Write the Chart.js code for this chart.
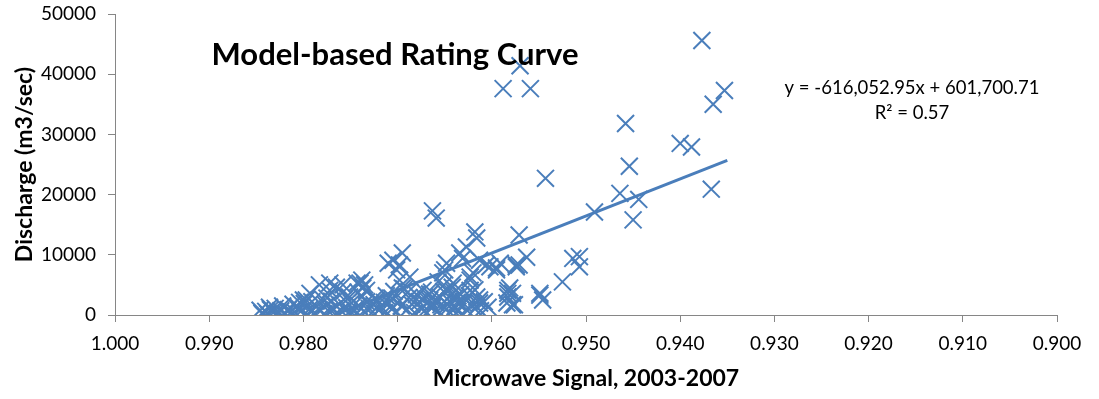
<!DOCTYPE html>
<html>
<head>
<meta charset="utf-8">
<script src="https://cdn.jsdelivr.net/npm/chart.js@4.4.0/dist/chart.umd.min.js"></script>
<style>
  body { margin: 0; background: #fff; }
  canvas { display: block; }
</style>
</head>
<body>
<canvas id="chart" width="1099" height="399"></canvas>
<script>
// === DATA ===
const chartTitle = "Model-based Rating Curve";
const xTitle = "Microwave Signal, 2003-2007";
const yTitle = "Discharge (m3/sec)";
const trendText = ["y = -616,052.95x + 601,700.71", "R\u00b2 = 0.57"];

// microwave signal (x) and discharge (y)
const signal = [
  0.9377, 0.9353, 0.9365, 0.9458, 0.9400, 0.9388, 0.9454, 0.9367, 0.9464, 0.9444,
  0.9450, 0.9491, 0.9543, 0.9570, 0.9588, 0.9559, 0.9663, 0.9659, 0.9618, 0.9616,
  0.9627, 0.9571, 0.9563, 0.9571, 0.9514, 0.9507, 0.9507, 0.9525, 0.9549, 0.9546,
  0.9581, 0.9578, 0.9583, 0.9591, 0.9602, 0.9595, 0.9613, 0.9620, 0.9623, 0.9648,
  0.9652, 0.9634, 0.9631, 0.9616, 0.9613, 0.9695, 0.9705, 0.9710, 0.9740, 0.9737,
  0.9758, 0.9698, 0.9687, 0.9701, 0.9783, 0.9772, 0.9765, 0.9793, 0.9800, 0.9846,
  0.9836, 0.9844,
  // medium values
  0.9650, 0.9673, 0.9666, 0.9663, 0.9655, 0.9648, 0.9641, 0.9638, 0.9634, 0.9641,
  0.9623, 0.9623, 0.9613, 0.9616, 0.9606, 0.9595, 0.9583, 0.9583, 0.9576, 0.9574,
  0.9549, 0.9574, 0.9584, 0.9578, 0.9698, 0.9689, 0.9695, 0.9735, 0.9742, 0.9657,
  0.9651, 0.9640, 0.9664, 0.9671, 0.9660, 0.9647, 0.9637, 0.9674, 0.9724, 0.9714,
  0.9706, 0.9772, 0.9743, 0.9738, 0.9733, 0.9804, 0.9797, 0.9775, 0.9751, 0.9758,
  // dense low cluster
  0.9843, 0.9840, 0.9838, 0.9835, 0.9832, 0.9830, 0.9827, 0.9824, 0.9822, 0.9819,
  0.9816, 0.9813, 0.9811, 0.9808, 0.9805, 0.9803, 0.9799, 0.9796, 0.9794, 0.9791,
  0.9788, 0.9786, 0.9783, 0.9780, 0.9778, 0.9776, 0.9773, 0.9770, 0.9768, 0.9765,
  0.9762, 0.9760, 0.9757, 0.9754, 0.9752, 0.9749, 0.9746, 0.9744, 0.9741, 0.9738,
  0.9736, 0.9733, 0.9730, 0.9728, 0.9725, 0.9722, 0.9720, 0.9717, 0.9714, 0.9712,
  0.9709, 0.9706, 0.9704, 0.9701, 0.9698, 0.9696, 0.9693, 0.9690, 0.9688, 0.9685,
  0.9682, 0.9680, 0.9677, 0.9674, 0.9672, 0.9669, 0.9666, 0.9663, 0.9660, 0.9657,
  0.9654, 0.9651, 0.9648, 0.9645, 0.9642, 0.9639, 0.9636, 0.9633, 0.9630, 0.9627,
  0.9624, 0.9621, 0.9618, 0.9612, 0.9608, 0.9604
];
const discharge = [
  45600, 37300, 35000, 31800, 28500, 27900, 24700, 20900, 20200, 19200,
  15800, 17100, 22700, 41400, 37600, 37600, 17300, 16100, 13800, 12800,
  11300, 13300, 9600, 8300, 9400, 9700, 8000, 5500, 3600, 2500,
  4500, 1700, 3600, 8600, 8000, 7500, 9100, 7000, 5800, 8600,
  7000, 10300, 9400, 1300, 2500, 10300, 9100, 8600, 5300, 4500,
  5000, 5800, 6300, 7500, 5000, 5300, 4600, 3600, 2500, 800,
  1300, 300,
  7500, 4100, 2500, 1300, 3000, 4100, 5300, 3000, 2000, 800,
  4100, 6300, 2000, 3000, 8300, 7800, 4100, 3000, 1700, 8300,
  3300, 8000, 2000, 3600, 8300, 3800, 4500, 5000, 3800, 5500,
  5000, 3800, 3800, 2800, 2100, 1700, 2100, 1200, 2800, 2100,
  2800, 4100, 5300, 5800, 4100, 2100, 2500, 2800, 3000, 3800,
  100, 600, 200, 900, 400, 1100, 300, 700, 1500, 200,
  900, 500, 1800, 300, 1200, 600, 1900, 100, 900, 2200,
  400, 1400, 800, 2700, 200, 1600, 600, 2300, 1000, 300,
  1800, 700, 2600, 1200, 400, 2000, 900, 200, 1500, 3000,
  600, 2200, 1100, 300, 1700, 2600, 800, 1300, 400, 3200,
  2000, 1000, 3900, 500, 2400, 1500, 4300, 900, 2900, 1800,
  400, 3400, 2200, 1100, 600, 1900, 3500, 1300, 2500, 700,
  1700, 3900, 1000, 2300, 4600, 1400, 600, 3400, 1900, 900,
  3200, 1500, 4200, 700, 2200, 1300
];

// linear trendline ends (from the fitted equation)
const trendX = [0.9767, 0.935];
const trendY = [0, 25690];

const xRange = [0.9, 1.0, 0.01];
const yRange = [0, 50000, 10000];

const blue = "#4A7EBB";
const axisGrey = "#868686";
const fontFamily = "Lato, 'Open Sans', sans-serif";

const points = signal.map((x, i) => ({ x: x, y: discharge[i] }));
const trend = trendX.map((x, i) => ({ x: x, y: trendY[i] }));

// draws chart title and trendline label over the plot area
const overlayText = {
  id: "overlayText",
  afterDraw(chart) {
    const ctx = chart.ctx;
    ctx.save();
    ctx.fillStyle = "#000";
    ctx.textAlign = "center";
    ctx.textBaseline = "middle";
    ctx.font = "bold 31px " + fontFamily;
    ctx.fillText(chartTitle, 395, 55);
    ctx.font = "18.5px " + fontFamily;
    ctx.fillText(trendText[0], 912, 88);
    ctx.fillText(trendText[1], 912, 113);
    ctx.restore();
  },
};

new Chart(document.getElementById("chart"), {
  type: "scatter",
  data: {
    datasets: [
      {
        label: "Discharge",
        data: points,
        pointStyle: "crossRot",
        pointRadius: 12,
        pointBorderWidth: 2,
        borderColor: blue,
        backgroundColor: blue,
      },
      {
        type: "line",
        label: "Trend",
        data: trend,
        borderColor: blue,
        borderWidth: 3,
        pointRadius: 0,
        fill: false,
      },
    ],
  },
  options: {
    responsive: false,
    animation: false,
    layout: { padding: { top: 13, right: 42, left: 0, bottom: 0 } },
    plugins: { legend: { display: false }, tooltip: { enabled: false } },
    scales: {
      x: {
        type: "linear",
        reverse: true,
        min: xRange[0],
        max: xRange[1],
        ticks: {
          stepSize: xRange[2],
          color: "#000",
          padding: 10,
          font: { family: fontFamily, size: 19 },
          callback: (v) => v.toFixed(3),
        },
        grid: { drawOnChartArea: false, drawTicks: true, tickLength: 7, color: axisGrey },
        border: { color: axisGrey, width: 1 },
        title: {
          display: true,
          text: xTitle,
          color: "#000",
          font: { family: fontFamily, size: 23, weight: "bold" },
          padding: { top: 0, bottom: 7 },
        },
        afterFit: (s) => { s.height = 84; },
      },
      y: {
        min: yRange[0],
        max: yRange[1],
        ticks: {
          stepSize: yRange[2],
          color: "#000",
          padding: 12,
          font: { family: fontFamily, size: 19 },
          callback: (v) => String(v),
        },
        grid: { drawOnChartArea: false, drawTicks: true, tickLength: 7, color: axisGrey },
        border: { color: axisGrey, width: 1 },
        title: {
          display: true,
          text: yTitle,
          color: "#000",
          font: { family: fontFamily, size: 23, weight: "bold" },
          padding: { top: 11, bottom: 0 },
        },
        afterFit: (s) => { s.width = 115; s.paddingTop = 0; },
      },
    },
  },
  plugins: [overlayText],
});
</script>
</body>
</html>
